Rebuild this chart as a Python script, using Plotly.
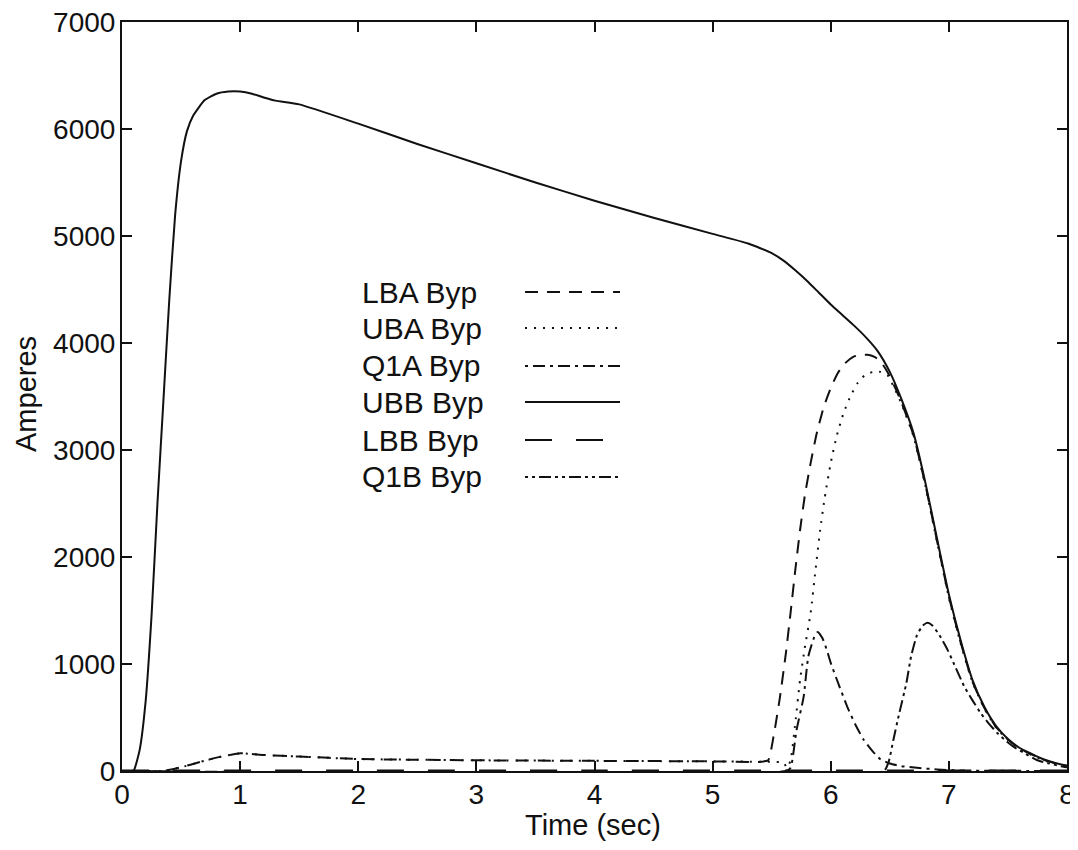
import plotly.graph_objects as go

# ---------------- data ----------------
ubb_t = [0, 0.08, 0.1, 0.15, 0.2, 0.25, 0.3, 0.35, 0.4, 0.45, 0.5, 0.55, 0.6, 0.7, 0.8, 0.9, 1.0,
         1.1, 1.2, 1.3, 1.5, 2.0, 2.5, 3.0, 3.5, 4.0, 4.5, 5.0, 5.3, 5.5, 5.6, 5.7, 5.8, 5.9, 6.0,
         6.1, 6.2, 6.3, 6.4, 6.5, 6.6, 6.7, 6.8, 6.9, 7.0, 7.1, 7.2, 7.3, 7.4,
         7.5, 7.6, 7.7, 7.8, 7.9, 8.0]
ubb_v = [0, 0, 5, 200, 650, 1450, 2500, 3450, 4400, 5200, 5700, 5980, 6120, 6270, 6330, 6350, 6350,
         6330, 6295, 6265, 6230, 6050, 5860, 5680, 5500, 5330, 5170, 5020, 4930, 4840, 4770, 4680, 4580, 4470, 4360,
         4260, 4160, 4050, 3920, 3730, 3470, 3160, 2700, 2170, 1650, 1220, 850, 600, 420,
         300, 215, 160, 110, 75, 50]

lba_t = [0, 0.35, 0.5, 0.66, 0.8, 1.0, 1.2, 1.5, 2.0, 2.5, 3.0, 4.0, 5.0, 5.4, 5.47, 5.52, 5.57, 5.62,
         5.66, 5.7, 5.74, 5.78, 5.83, 5.88, 5.94, 6.0, 6.06, 6.12, 6.19, 6.25, 6.31, 6.37, 6.42, 6.48,
         6.55, 6.6, 6.7, 6.8, 6.9, 7.0, 7.1, 7.2, 7.3, 7.4, 7.5, 7.6, 7.7, 7.8, 7.9, 8.0]
lba_v = [0, 0, 35, 84, 125, 165, 150, 135, 112, 105, 100, 95, 90, 85, 100, 350, 690, 1100,
         1480, 1880, 2250, 2570, 2880, 3150, 3400, 3580, 3720, 3810, 3870, 3890, 3890, 3870, 3830, 3730,
         3570, 3440, 3140, 2680, 2150, 1630, 1200, 835, 590, 410, 295, 210, 155, 105, 72, 48]

uba_t = [0, 0.35, 0.5, 0.66, 0.8, 1.0, 1.2, 1.5, 2.0, 2.5, 3.0, 4.0, 5.0, 5.5, 5.6, 5.63, 5.66, 5.7,
         5.74, 5.78, 5.83, 5.87, 5.91, 5.95, 6.0, 6.05, 6.11, 6.17, 6.23, 6.29, 6.36, 6.42, 6.48,
         6.55, 6.6, 6.7, 6.8, 6.9, 7.0, 7.1, 7.2, 7.3, 7.4, 7.5, 7.6, 7.7, 7.8, 7.9, 8.0]
uba_v = [0, 0, 35, 84, 125, 165, 150, 135, 112, 105, 100, 95, 90, 85, 80, 30, 100, 450,
         850, 1150, 1480, 1870, 2250, 2560, 2880, 3130, 3350, 3510, 3630, 3700, 3730, 3730, 3700,
         3550, 3430, 3130, 2670, 2140, 1620, 1190, 830, 585, 405, 290, 205, 150, 102, 70, 46]

q1a_t = [0, 5.62, 5.66, 5.71, 5.77, 5.81, 5.86, 5.89, 5.93, 5.97, 6.0, 6.07, 6.14, 6.21, 6.28,
         6.35, 6.42, 6.5, 6.6, 6.73, 6.9, 7.1, 8.0]
q1a_v = [0, 0, 30, 380, 690, 1070, 1250, 1300, 1240, 1120, 1010, 800, 600, 430, 290,
         190, 110, 70, 45, 30, 15, 5, 0]

q1b_t = [0, 6.45, 6.49, 6.53, 6.58, 6.64, 6.68, 6.73, 6.78, 6.82, 6.86, 6.92, 6.99, 7.06, 7.13,
         7.2, 7.27, 7.34, 7.41, 7.48, 7.55, 7.65, 7.75, 7.85, 7.97, 8.0]
q1b_v = [0, 0, 85, 290, 540, 820, 1070, 1270, 1360, 1385, 1360, 1270, 1130, 960, 790,
         660, 540, 440, 355, 285, 225, 160, 100, 70, 40, 35]

lbb_t = [0, 2, 4, 6, 8]
lbb_v = [5, 5, 5, 5, 5]

x_ticks = [0, 1, 2, 3, 4, 5, 6, 7, 8]
y_ticks = [0, 1000, 2000, 3000, 4000, 5000, 6000, 7000]

legend_names = ["LBA Byp", "UBA Byp", "Q1A Byp", "UBB Byp", "LBB Byp", "Q1B Byp"]

# ---------------- styles ----------------
INK = "#111111"
FONT = "Liberation Sans, Arial, Helvetica, sans-serif"
dash_styles = {
    "LBA Byp": "13px,9px",
    "UBA Byp": "2px,7px",
    "Q1A Byp": "3px,5px,12px,5px",
    "UBB Byp": "solid",
    "LBB Byp": "27px,24px",
    "Q1B Byp": "3px,4px,3px,4px,12px,4px",
}
legend_len = {"LBA Byp": 95, "UBA Byp": 95, "Q1A Byp": 95, "UBB Byp": 95, "LBB Byp": 80, "Q1B Byp": 95}

series = {
    "LBA Byp": (lba_t, lba_v),
    "UBA Byp": (uba_t, uba_v),
    "Q1A Byp": (q1a_t, q1a_v),
    "UBB Byp": (ubb_t, ubb_v),
    "LBB Byp": (lbb_t, lbb_v),
    "Q1B Byp": (q1b_t, q1b_v),
}

fig = go.Figure()
for name in legend_names:
    t, v = series[name]
    fig.add_trace(go.Scatter(
        x=t, y=v, mode="lines", name=name, showlegend=False,
        line=dict(color=INK, width=2, dash=dash_styles[name], shape="spline", smoothing=0.5),
    ))

# the page body adds an 8px margin; size the figure so the screenshot lines up
OFF = 8
W, H = 1070, 842
L, R, T, B = 114, 11, 14, 79
pw, ph = W - L - R, H - T - B

def sx(px):  # screen pixel x -> paper
    return (px - OFF - L) / pw

def sy(py):  # screen pixel y -> paper
    return (H - B - (py - OFF)) / ph

# manual legend: text on the left, line sample on the right
row_y = [292, 328, 366, 402, 440, 477]
annotations = []
shapes = []
for name, yy in zip(legend_names, row_y):
    annotations.append(dict(
        x=sx(360), y=sy(yy), xref="paper", yref="paper",
        text=name, showarrow=False, xanchor="left", yanchor="middle",
        font=dict(family=FONT, size=30, color=INK),
    ))
    shapes.append(dict(
        type="line", xref="paper", yref="paper",
        x0=sx(525), x1=sx(525 + legend_len[name]),
        y0=sy(yy), y1=sy(yy),
        line=dict(color=INK, width=2, dash=dash_styles[name]),
    ))

# axis titles
annotations.append(dict(
    x=sx(593), y=sy(825), xref="paper", yref="paper",
    text="Time (sec)", showarrow=False, xanchor="center", yanchor="middle",
    font=dict(family=FONT, size=29, color=INK),
))
annotations.append(dict(
    x=sx(26), y=sy(394), xref="paper", yref="paper",
    text="Amperes", showarrow=False, xanchor="center", yanchor="middle", textangle=-90,
    font=dict(family=FONT, size=29, color=INK),
))

axis_common = dict(
    showline=True, linecolor=INK, linewidth=2, mirror="ticks",
    ticks="inside", ticklen=10, tickwidth=1.5, tickcolor=INK,
    showgrid=False, zeroline=False, ticklabeloverflow="allow",
    tickfont=dict(family=FONT, size=28, color=INK),
)

fig.update_layout(
    width=W, height=H,
    margin=dict(l=L, r=R, t=T, b=B, autoexpand=False),
    paper_bgcolor="white", plot_bgcolor="white",
    xaxis=dict(range=[0, 8], tickvals=x_ticks, ticktext=[str(v) for v in x_ticks],
               ticklabelstandoff=-3, **axis_common),
    yaxis=dict(range=[0, 7000], tickvals=y_ticks, ticktext=[str(v) for v in y_ticks],
               ticklabelstandoff=-1, **axis_common),
    annotations=annotations,
    shapes=shapes,
    showlegend=False,
)

fig.write_html("out.html")
